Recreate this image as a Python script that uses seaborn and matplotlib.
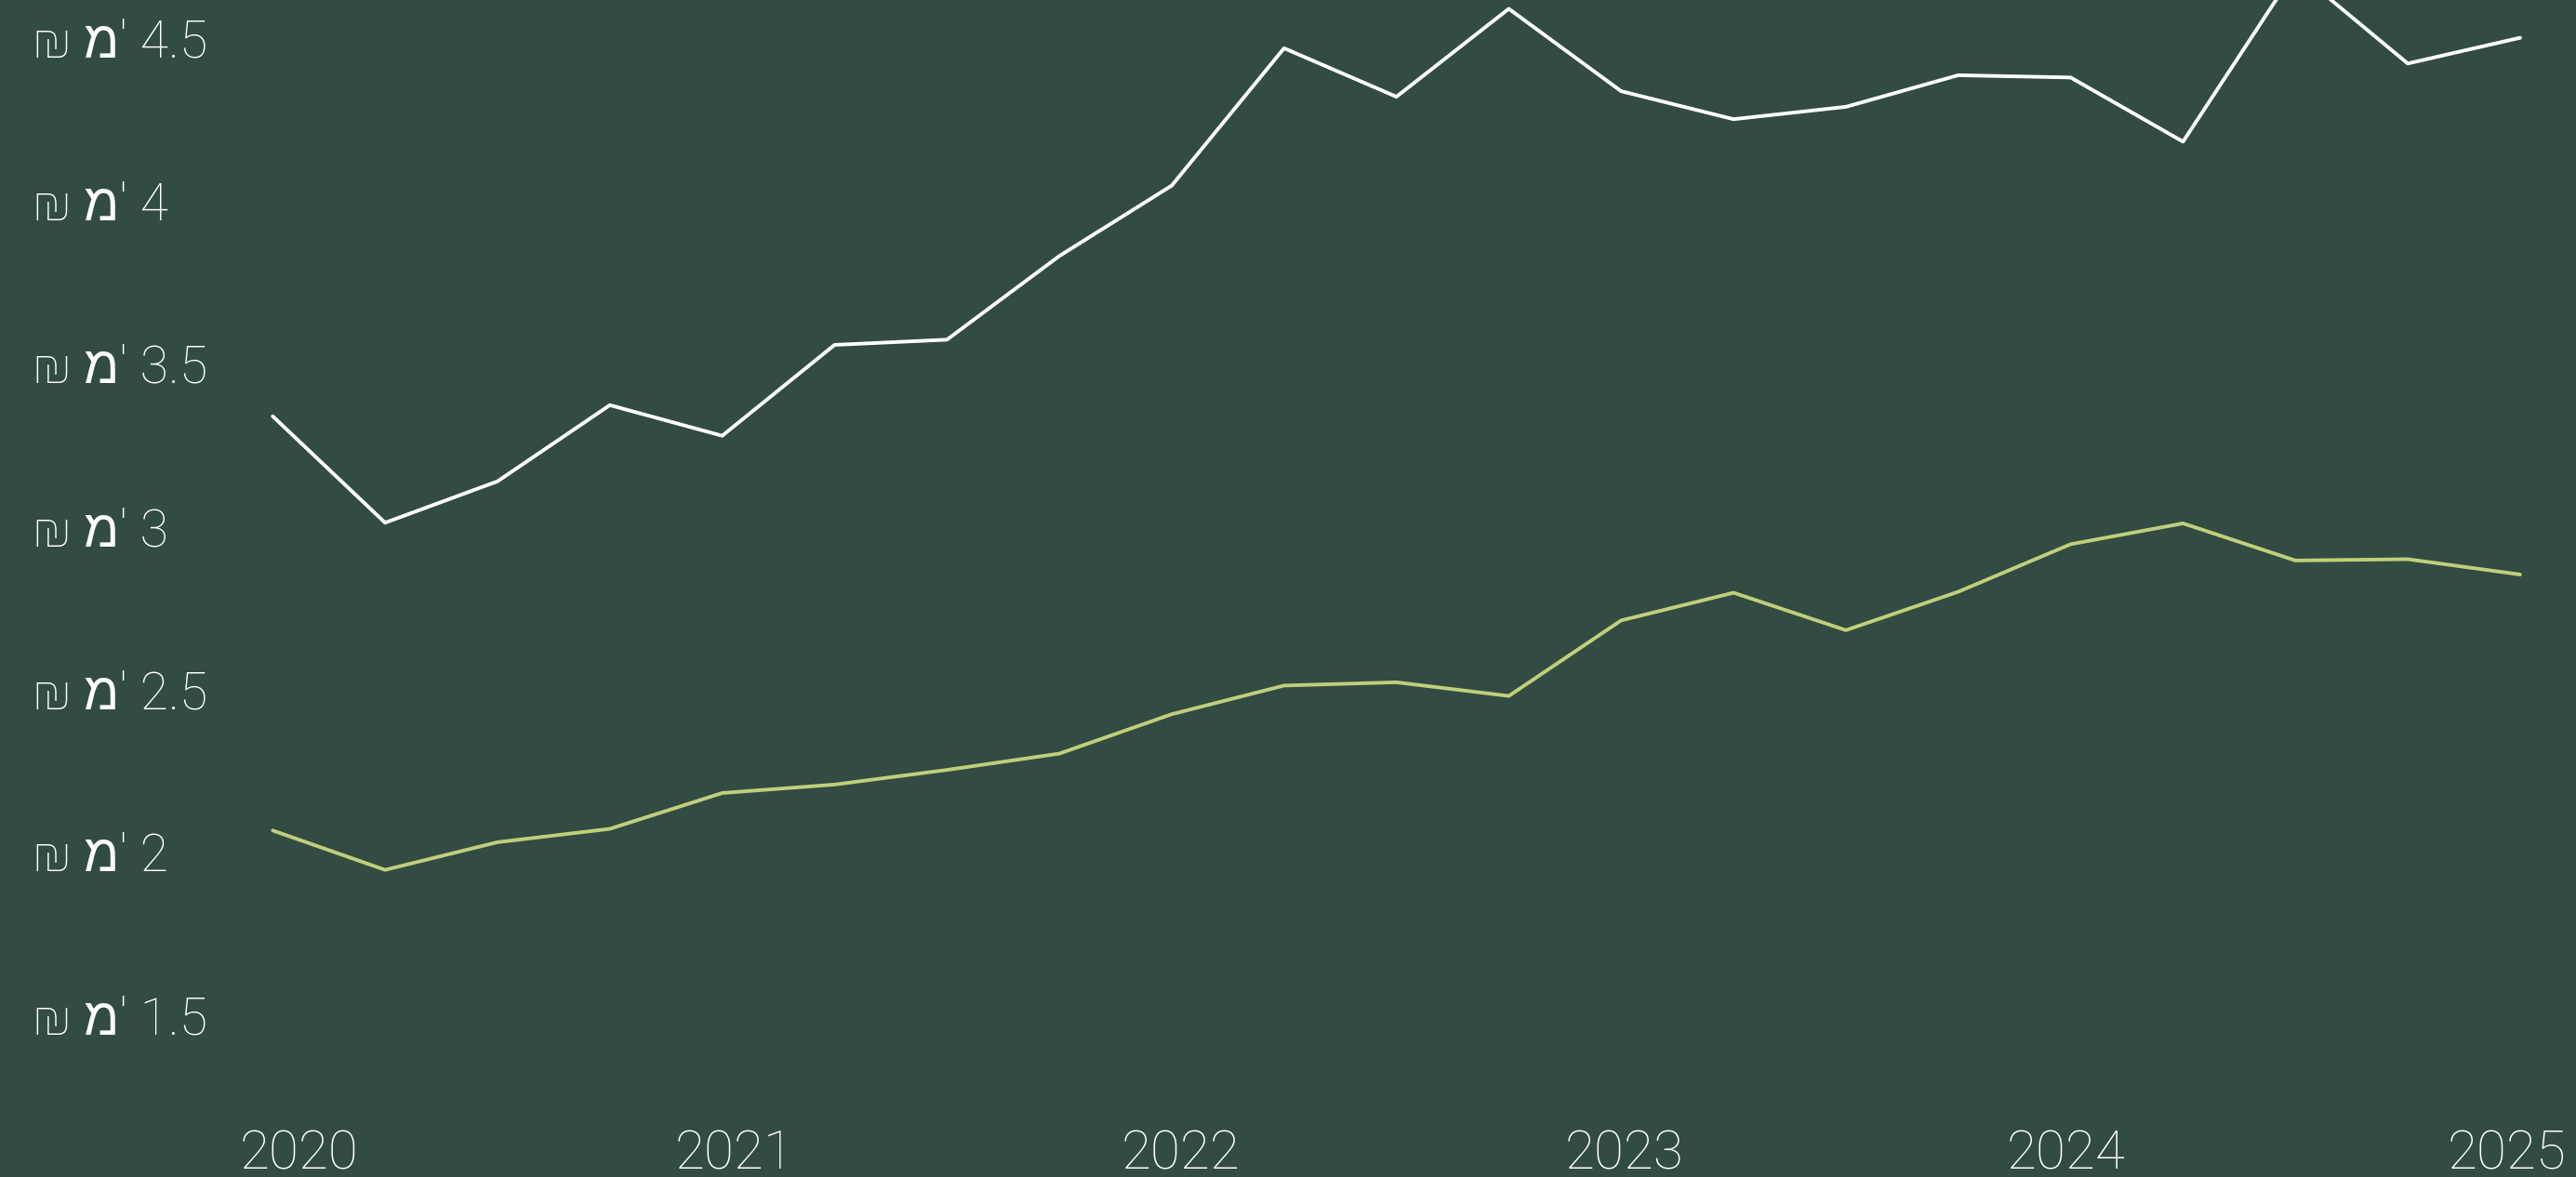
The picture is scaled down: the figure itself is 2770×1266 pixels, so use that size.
import seaborn as sns
import pandas as pd
import matplotlib.pyplot as plt

# quarterly points, Dec 2019 .. Dec 2024
quarters = ["2019Q4", "2020Q1", "2020Q2", "2020Q3", "2020Q4",
            "2021Q1", "2021Q2", "2021Q3", "2021Q4",
            "2022Q1", "2022Q2", "2022Q3", "2022Q4",
            "2023Q1", "2023Q2", "2023Q3", "2023Q4",
            "2024Q1", "2024Q2", "2024Q3", "2024Q4"]
white_vals = [3.338, 3.011, 3.138, 3.372, 3.278, 3.557, 3.573, 3.830, 4.046,
              4.468, 4.319, 4.589, 4.336, 4.250, 4.288, 4.385, 4.378,
              4.181, 4.707, 4.421, 4.500]
green_vals = [2.066, 1.945, 2.030, 2.071, 2.181, 2.207, 2.252, 2.302, 2.423,
              2.511, 2.521, 2.479, 2.711, 2.796, 2.681, 2.799, 2.945,
              3.009, 2.895, 2.899, 2.852]
y_ticks = [1.5, 2, 2.5, 3, 3.5, 4, 4.5]
year_labels = ["2020", "2021", "2022", "2023", "2024", "2025"]
year_pos = [0.23, 4.11, 8.08, 12.03, 15.96, 20.41]

BG = "#324c43"

df = pd.DataFrame({
    "q": list(range(len(quarters))) * 2,
    "value": white_vals + green_vals,
    "series": ["white"] * len(quarters) + ["green"] * len(quarters),
})

sns.set_theme(style="white", rc={"axes.facecolor": BG, "figure.facecolor": BG})
plt.rcParams["font.family"] = ["Roboto", "Liberation Sans", "DejaVu Sans"]

fig = plt.figure(figsize=(27.7, 12.66), dpi=100)
ax = fig.add_axes([0, 0, 1, 1])
sns.lineplot(data=df, x="q", y="value", hue="series",
             palette={"white": "#ffffff", "green": "#c2cf7a"},
             linewidth=2.8, legend=False, ax=ax)

ax.set_xlim(-2.427, 20.497)
ax.set_ylim(1.002, 4.616)
for s in ax.spines.values():
    s.set_visible(False)
ax.set_xlabel("")
ax.set_ylabel("")

ax.set_yticks(y_ticks)
ax.set_yticklabels([f"₪ מ' {v:g}" for v in y_ticks])
ax.tick_params(axis="y", length=0, pad=-25.2, labelsize=40, labelcolor="white")
for lab in ax.get_yticklabels():
    lab.set_horizontalalignment("left")
    lab.set_fontweight("light")

ax.set_xticks(year_pos)
ax.set_xticklabels(year_labels)
ax.tick_params(axis="x", length=0, pad=-5.8, labelsize=42, labelcolor="white")
xl = ax.get_xticklabels()
for lab in xl:
    lab.set_verticalalignment("baseline")
    lab.set_fontweight("light")
xl[-1].set_horizontalalignment("right")
ax.grid(False)

fig.savefig("out.png", dpi=100, facecolor=BG)
